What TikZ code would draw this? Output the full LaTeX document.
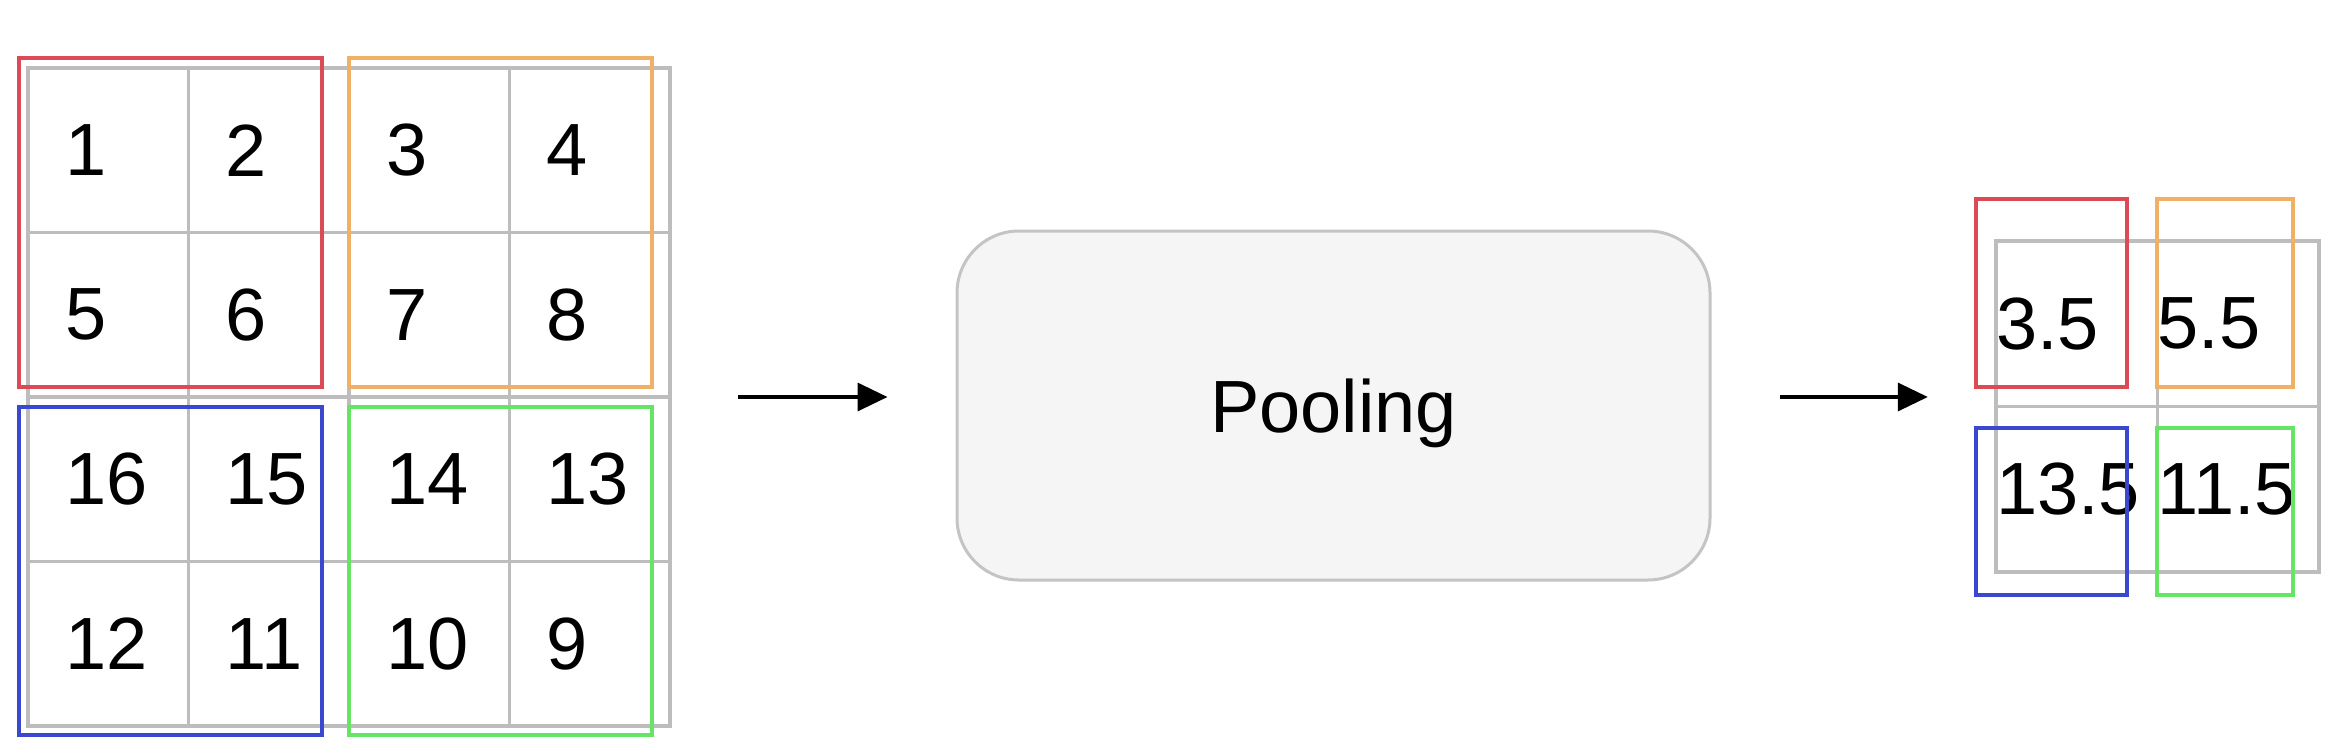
\documentclass[tikz,border=0pt]{standalone}
\usepackage{fontspec}
\setmainfont{Liberation Sans}
\usetikzlibrary{arrows.meta}
\definecolor{gridgray}{HTML}{BDBDBD}
\definecolor{redc}{HTML}{DC4A55}
\definecolor{orangec}{HTML}{F0B066}
\definecolor{bluec}{HTML}{3A48D0}
\definecolor{greenc}{HTML}{66E466}
\definecolor{poolfill}{HTML}{F5F5F5}
\definecolor{poolline}{HTML}{C4C4C4}
\newcommand\bigfnt{\fontsize{74}{80}\selectfont}
\begin{document}
\begin{tikzpicture}[x=1pt,y=-1pt,
  cellL/.style={draw=gridgray, line width=3.5pt, minimum width=160.5pt, minimum height=164.5pt,
    inner xsep=37pt, inner ysep=0pt, text width=86.5pt, align=left, font=\bigfnt},
  cellR/.style={draw=gridgray, line width=3.5pt, minimum width=161.5pt, minimum height=165.5pt,
    inner xsep=0pt, inner ysep=0pt, text width=161.5pt, align=left, font=\bigfnt},
  win/.style={draw=#1, line width=3.5pt, inner sep=0pt},
  span/.style={inner sep=0pt},
  poolbox/.style={draw=poolline, fill=poolfill, line width=3pt, rounded corners=62pt,
    minimum width=753pt, minimum height=349pt, font=\bigfnt, text depth=0pt},
  conn/.style={line width=3.5pt, -{Triangle[length=30pt,width=28pt]}, shorten <=68pt, shorten >=68pt}]
\useasboundingbox (0,0) rectangle (2352,752);
\fill[white] (0,0) rectangle (2352,752);

% left 4x4 grid
\foreach \t [count=\i from 0] in {1,2,3,4,5,6,7,8,16,15,14,13,12,11,10,9} {
  \pgfmathtruncatemacro\cc{mod(\i,4)}
  \pgfmathtruncatemacro\rr{div(\i,4)}
  \node[cellL] (L\t) at ({28+160.5*(\cc+0.5)},{68+164.5*(\rr+0.5)}) {\t};
}
\node[span, minimum width=642pt, minimum height=658pt] (gridL) at (349,397) {};

% left pooling windows
\node[win=redc, minimum width=303pt, minimum height=329pt] (wLr) at (170.5,222.5) {};
\node[win=orangec, minimum width=303pt, minimum height=329pt] (wLo) at (500.5,222.5) {};
\node[win=bluec, minimum width=303pt, minimum height=328pt] (wLb) at (170.5,571) {};
\node[win=greenc, minimum width=303pt, minimum height=328pt] (wLg) at (500.5,571) {};

% pooling box
\node[poolbox] (pool) at (1333.5,405.5) {Pooling};

% right 2x2 grid
\node[cellR] (R1) at (2076.75,323.75) {3.5};
\node[cellR] (R2) at (2238.25,323.75) {5.5};
\node[cellR] (R3) at (2076.75,489.25) {13.5};
\node[cellR] (R4) at (2238.25,489.25) {11.5};
\node[span, minimum width=323pt, minimum height=331pt] (gridR) at (2157.5,406.5) {};

% right windows
\node[win=redc, minimum width=151pt, minimum height=188pt] (wRr) at (2051.5,293) {};
\node[win=orangec, minimum width=136pt, minimum height=188pt] (wRo) at (2225,293) {};
\node[win=bluec, minimum width=151pt, minimum height=167pt] (wRb) at (2051.5,511.5) {};
\node[win=greenc, minimum width=136pt, minimum height=167pt] (wRg) at (2225,511.5) {};

% connectors
\draw[conn] (gridL.east) -- (gridL.east -| pool.west);
\coordinate (a2s) at (pool.east |- gridL.east);
\draw[conn] (a2s) -- (a2s -| gridR.west);
\end{tikzpicture}
\end{document}
